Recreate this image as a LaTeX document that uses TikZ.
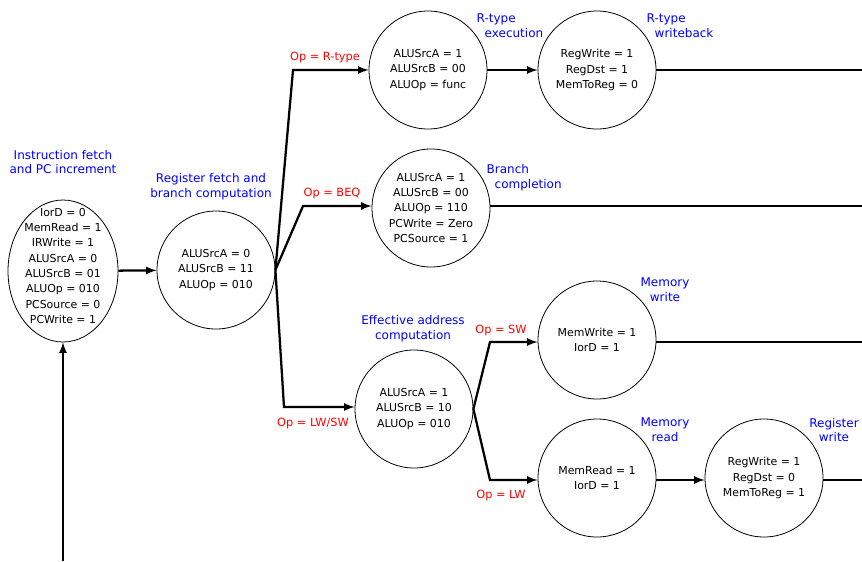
\documentclass[tikz,border=0pt]{standalone}
\usepackage{fontspec}
\setmainfont{DejaVu Sans}
\usetikzlibrary{shapes.geometric}
\begin{document}
\begin{tikzpicture}[x=0.75pt,y=-0.75pt,>=latex]
  \tikzstyle{state}=[draw, circle, line width=0.6pt, minimum size=88.5pt, inner sep=0pt,
    align=center, font=\fontsize{8.2}{11.5}\selectfont]
  \tikzstyle{phase}=[text=blue, align=center, font=\fontsize{9}{11}\selectfont]
  \tikzstyle{cond}=[text=red, font=\fontsize{8.5}{10}\selectfont]
  \tikzstyle{trans}=[line width=1.7pt]
  \useasboundingbox (0,0) rectangle (862,561);

  % fetch state (ellipse, text set on top)
  \node[draw, ellipse, line width=0.6pt, minimum width=82.5pt, minimum height=106.5pt] (fetch) at (63,271) {};
  \node[align=center, font=\fontsize{8.2}{11.5}\selectfont] (fetchtxt) at (63,266)
    {IorD = 0\\MemRead = 1\\IRWrite = 1\\ALUSrcA = 0\\ALUSrcB = 01\\ALUOp = 010\\PCSource = 0\\PCWrite = 1};
  \node[state] (decode) at (216,270) {ALUSrcA = 0\\ALUSrcB = 11\\ALUOp = 010};

  \node[state] (rexec) at (428,70) {ALUSrcA = 1\\ALUSrcB = 00\\ALUOp = func};
  \node[state] (rwb) at (597,70) {RegWrite = 1\\RegDst = 1\\MemToReg = 0};
  \node[state] (beq) at (431,208) {ALUSrcA = 1\\ALUSrcB = 00\\ALUOp = 110\\PCWrite = Zero\\PCSource = 1};
  \node[state] (addr) at (414,409) {ALUSrcA = 1\\ALUSrcB = 10\\ALUOp = 010};
  \node[state] (memw) at (597,340) {MemWrite = 1\\IorD = 1};
  \node[state] (memr) at (597,478) {MemRead = 1\\IorD = 1};
  \node[state] (regw) at (764,478) {RegWrite = 1\\RegDst = 0\\MemToReg = 1};

  % state names
  \node[phase] (fetchname) at (63,162) {Instruction fetch\\and PC increment};
  \node[phase] (decodename) at (211,187) {Register fetch and\\branch computation};
  \node[phase, anchor=west, align=left] (rexecname) at (472,26) {R-type\\\hspace*{6pt}execution};
  \node[phase, anchor=west, align=left] (rwbname) at (642,26) {R-type\\\hspace*{6pt}writeback};
  \node[phase, anchor=west, align=left] (beqname) at (482,178) {Branch\\\hspace*{6pt}completion};
  \node[phase] (addrname) at (413,329) {Effective address\\computation};
  \node[phase] (memwname) at (665,290) {Memory\\write};
  \node[phase] (memrname) at (665,430) {Memory\\read};
  \node[phase] (regwname) at (834,430) {Register\\write};

  % conditions
  \node[cond] (oprt) at (325,57) {Op = R-type};
  \node[cond] (opbeq) at (332,193) {Op = BEQ};
  \node[cond] (oplwsw) at (313,423) {Op = LW/SW};
  \node[cond] (opsw) at (501,330) {Op = SW};
  \node[cond] (oplw) at (501,495) {Op = LW};

  % corners and loose ends
  \coordinate (crt) at (293,70);
  \coordinate (cbeq) at (303,206);
  \coordinate (cls) at (284,407);
  \coordinate (csw) at (490,342);
  \coordinate (clw) at (490,480);
  \coordinate (back) at (63,561);
  \coordinate (out1) at (862,70);
  \coordinate (out2) at (862,206);
  \coordinate (out3) at (862,342);
  \coordinate (out4) at (862,480);

  \draw[trans,->] (fetch) -- (decode);
  \draw[trans,->] (decode.east) -- (crt) -- (crt -| rexec.west);
  \draw[trans,->] (decode.east) -- (cbeq) -- (cbeq -| beq.west);
  \draw[trans,->] (decode.east) -- (cls) -- (cls -| addr.west);
  \draw[trans,->] (rexec) -- (rwb);
  \draw[trans] (rwb) -- (out1);
  \draw[trans] (beq.east |- out2) -- (out2);
  \draw[trans,->] (addr.east) -- (csw) -- (csw -| memw.west);
  \draw[trans,->] (addr.east) -- (clw) -- (clw -| memr.west);
  \draw[trans] (memw.east |- out3) -- (out3);
  \draw[trans,->] (memr.east |- clw) -- (clw -| regw.west);
  \draw[trans] (regw.east |- out4) -- (out4);
  \draw[trans,->] (back) -- (fetch);
\end{tikzpicture}
\end{document}
